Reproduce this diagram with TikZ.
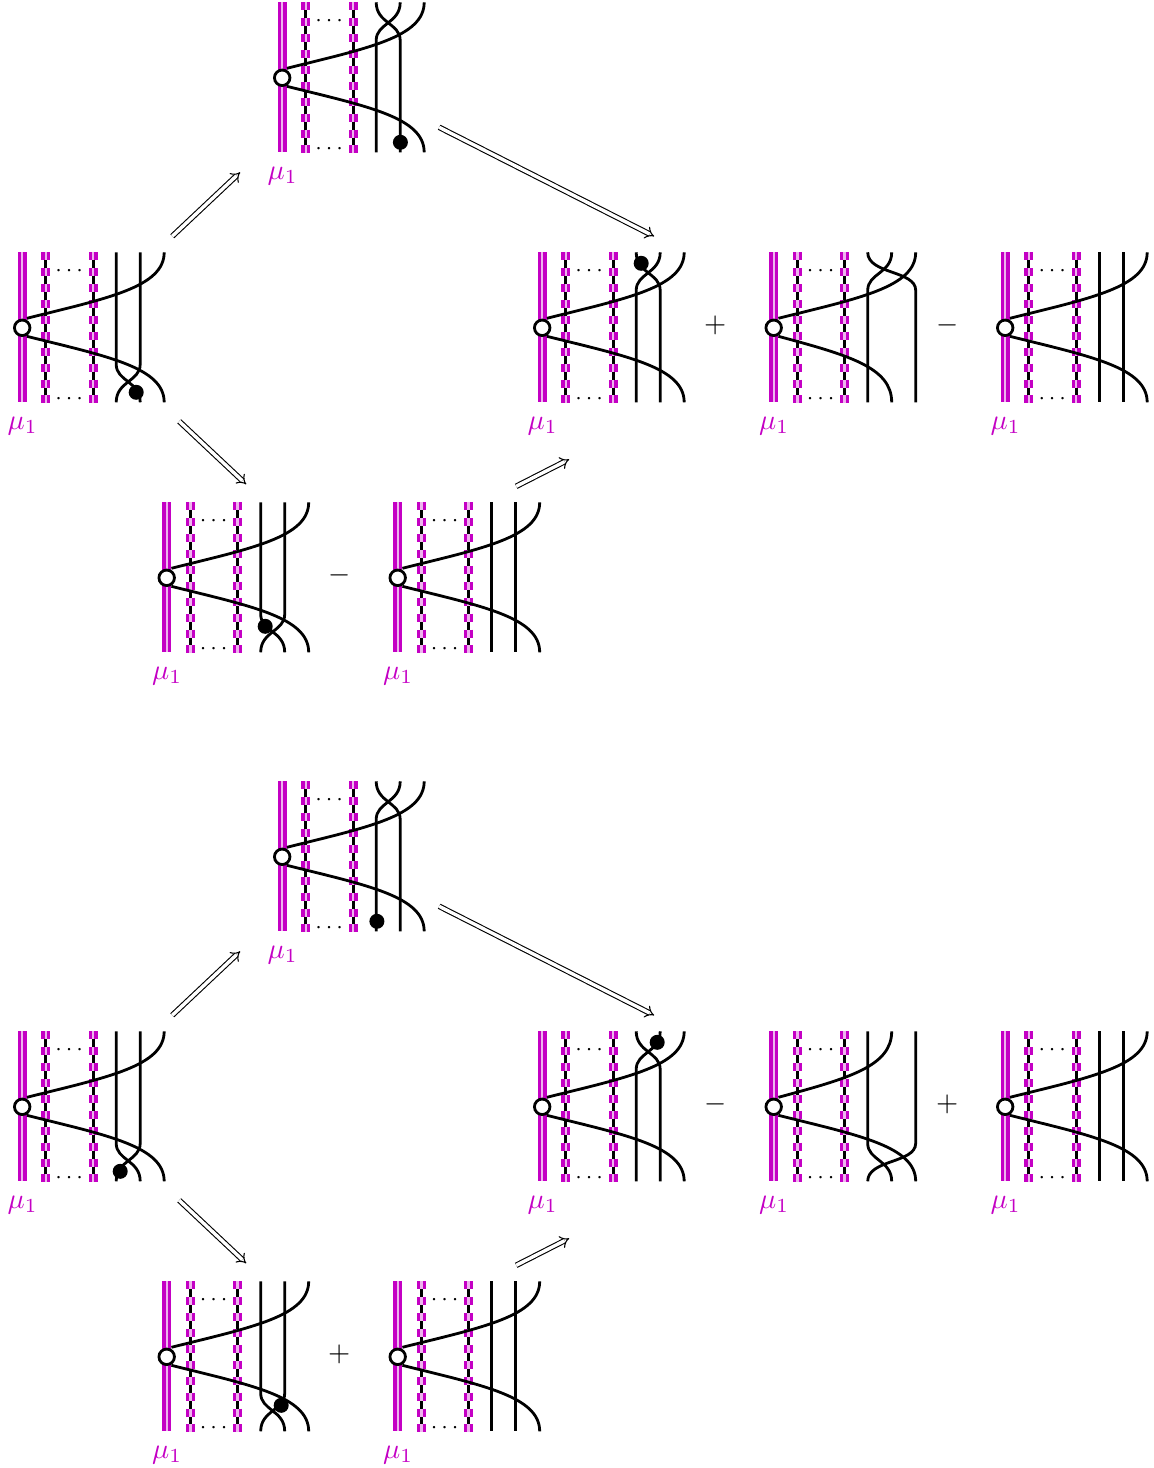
\documentclass[tikz,border=0pt]{standalone}
\usetikzlibrary{arrows.meta}
\definecolor{mg}{RGB}{196,0,196}
\definecolor{mgpale}{RGB}{238,180,238}
\tikzset{
  x=1pt,y=-1pt,
  strand/.style={line width=2.8pt,black,line cap=butt},
  thickmg/.style={line width=9pt,mg},
  palemg/.style={line width=2.4pt,mgpale},
  dashmg/.style={line width=9pt,mg,dash pattern=on 8.1pt off 7.8pt},
  dashpale/.style={line width=2.4pt,mgpale,dash pattern=on 8.1pt off 7.8pt},
  dashblack/.style={line width=3pt,black},
  vertexnode/.style={circle,draw=black,fill=white,line width=2.8pt,minimum size=15.5pt,inner sep=0pt},
  dotnode/.style={circle,fill=black,minimum size=15pt,inner sep=0pt},
  lbl/.style={text=mg,scale=2.85,inner sep=0pt},
  dotsnode/.style={scale=2.35,inner sep=0pt},
  signnode/.style={scale=2.85,inner sep=0pt},
  impl/.style={line width=1.1pt,double,double distance=3.4pt,-{Implies}},
}
% #1 name, #2 x0, #3 y0
\newcommand{\baseblock}[3]{%
  \begin{scope}[shift={(#2,#3)}]
    \draw[thickmg] (0,0) -- (0,150);
    \draw[palemg] (0,0) -- (0,150);
    \foreach \dx in {23.6,70.8}{
      \draw[dashblack] (\dx,0) -- (\dx,151);
      \draw[dashmg] (\dx,0) -- (\dx,151);
      \draw[dashpale] (\dx,0) -- (\dx,151);
    }
    \node[dotsnode] (#1t) at (47,18.8) {$\cdots$};
    \node[dotsnode] (#1b) at (47,147.3) {$\cdots$};
    \node[lbl] (#1l) at (0.5,174) {$\mu_1$};
  \end{scope}}
\newcommand{\topcurve}{(4.7,66) .. controls (84.7,46) and (142,35) .. (142,0)}
\newcommand{\botcurve}{(4.7,84) .. controls (84.7,104) and (142,115) .. (142,150)}
\newcommand{\topcurveb}{(4.7,66) .. controls (75,47) and (118,35) .. (118,0)}
\newcommand{\botcurveb}{(4.7,84) .. controls (75,103) and (118,115) .. (118,150)}
\begin{document}
\begin{tikzpicture}
\useasboundingbox (0,0) rectangle (1154,1468);
\begin{scope}[shift={(0.2,0.3)}]
\foreach \off/\g in {0/a,779/b}{
\begin{scope}[shift={(0,\off)}]
  \baseblock{\g1}{22}{252}
  \baseblock{\g2}{282}{2}
  \baseblock{\g3}{542}{252}
  \baseblock{\g4}{773.5}{252}
  \baseblock{\g5}{1005}{252}
  \baseblock{\g6}{166.5}{502}
  \baseblock{\g7}{397.5}{502}
  % standard big curves (all but block 4)
  \foreach \px/\py in {22/252,282/2,542/252,1005/252,166.5/502,397.5/502}{
    \begin{scope}[shift={(\px,\py)}]
      \draw[strand] \topcurve;
      \draw[strand] \botcurve;
    \end{scope}
  }
  % bottom crossing blocks
  \foreach \px/\py in {22/252,166.5/502}{
    \begin{scope}[shift={(\px,\py)}]
      \draw[strand] (94,0) -- (94,112) .. controls (94,129) and (118,129) .. (118,150);
      \draw[strand] (118,0) -- (118,112) .. controls (118,129) and (94,129) .. (94,150);
    \end{scope}
  }
  % top crossing blocks
  \foreach \px/\py in {282/2,542/252}{
    \begin{scope}[shift={(\px,\py)}]
      \draw[strand] (94,150) -- (94,38) .. controls (94,21) and (118,21) .. (118,0);
      \draw[strand] (118,150) -- (118,38) .. controls (118,21) and (94,21) .. (94,0);
    \end{scope}
  }
  % plain blocks
  \foreach \px/\py in {1005/252,397.5/502}{
    \begin{scope}[shift={(\px,\py)}]
      \draw[strand] (94,0) -- (94,150);
      \draw[strand] (118,0) -- (118,150);
    \end{scope}
  }
  \coordinate (\g s1) at (172,236); \coordinate (\g e1) at (240,172);
  \coordinate (\g s2) at (439,127); \coordinate (\g e2) at (654,236);
  \coordinate (\g s3) at (179,421); \coordinate (\g e3) at (246,484);
  \coordinate (\g s4) at (516,486); \coordinate (\g e4) at (569,459);
  \draw[impl] (\g s1) -- (\g e1);
  \draw[impl] (\g s2) -- (\g e2);
  \draw[impl] (\g s3) -- (\g e3);
  \draw[impl] (\g s4) -- (\g e4);
\end{scope}
}
% block 4, upper group: crossing at the top
\begin{scope}[shift={(773.5,252)}]
  \draw[strand] \topcurve;
  \draw[strand] \botcurveb;
  \draw[strand] (94,150) -- (94,38) .. controls (94,21) and (118,21) .. (118,0);
  \draw[strand] (142,150) -- (142,38) .. controls (142,18) and (94,22) .. (94,0);
\end{scope}
% block 4, lower group: crossing at the bottom
\begin{scope}[shift={(773.5,1031)}]
  \draw[strand] \topcurveb;
  \draw[strand] \botcurve;
  \draw[strand] (94,0) -- (94,112) .. controls (94,129) and (118,129) .. (118,150);
  \draw[strand] (142,0) -- (142,112) .. controls (142,132) and (94,128) .. (94,150);
\end{scope}
% vertices
\foreach \off/\g in {0/a,779/b}{
  \foreach \px/\py/\n in {22/252/1,282/2/2,542/252/3,773.5/252/4,1005/252/5,166.5/502/6,397.5/502/7}{
    \node[vertexnode] (\g\n v) at (\px,\py+\off+75.5) {};
  }
}
% dots
\node[dotnode] (d1) at (136,392) {};
\node[dotnode] (d2) at (400.2,142) {};
\node[dotnode] (d3) at (641,263) {};
\node[dotnode] (d4) at (265,626) {};
\node[dotnode] (d5) at (120,1171) {};
\node[dotnode] (d6) at (376.7,921) {};
\node[dotnode] (d7) at (657,1042) {};
\node[dotnode] (d8) at (281,1405) {};
% signs
\node[signnode] (s1) at (715,325.5) {$+$};
\node[signnode] (s2) at (947,325.5) {$-$};
\node[signnode] (s3) at (339,575.5) {$-$};
\node[signnode] (s4) at (715,1104.5) {$-$};
\node[signnode] (s5) at (947,1104.5) {$+$};
\node[signnode] (s6) at (339,1354.5) {$+$};
\end{scope}
\end{tikzpicture}
\end{document}
